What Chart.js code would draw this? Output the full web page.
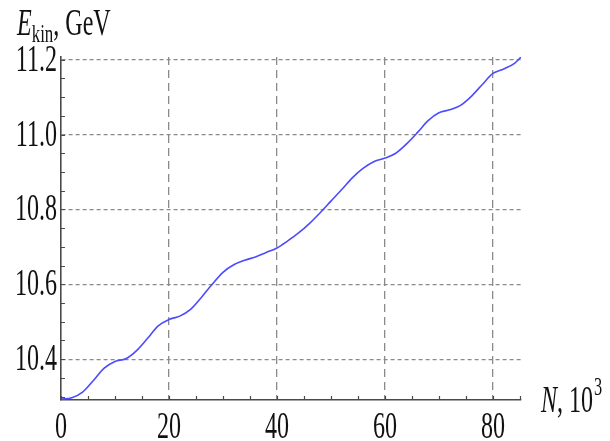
<!DOCTYPE html>
<html>
<head>
<meta charset="utf-8">
<script src="https://cdn.jsdelivr.net/npm/chart.js@4"></script>
<style>
  html, body { margin: 0; padding: 0; background: #fff; }
  #wrap { width: 610px; height: 441px; }
</style>
</head>
<body>
<div id="wrap"><canvas id="energyChart"></canvas></div>
<script>
// N in thousands, kinetic energy in GeV
const turns = [0, 2, 4, 6, 8, 10, 12, 14, 16, 18, 20, 22, 24, 26, 28, 30, 32, 34, 36, 38, 40,
    42, 44, 46, 48, 50, 52, 54, 56, 58, 60, 62, 64, 66, 68, 70, 72, 74, 76, 78, 80, 82, 84, 85.2];
const energy = [10.293, 10.297, 10.312, 10.343, 10.376, 10.394, 10.401, 10.423, 10.455, 10.489,
    10.506, 10.515, 10.533, 10.565, 10.600, 10.632, 10.652, 10.664, 10.673, 10.685, 10.697,
    10.716, 10.737, 10.762, 10.791, 10.822, 10.853, 10.885, 10.910, 10.928, 10.937,
    10.950, 10.975, 11.005, 11.037, 11.058, 11.066, 11.078, 11.102, 11.133, 11.163, 11.175, 11.190, 11.207];

const xLabelValues = [0, 20, 40, 60, 80];
const yLabelValues = [10.4, 10.6, 10.8, 11.0, 11.2];
const yLabelText = ['10.4', '10.6', '10.8', '11.0', '11.2'];

const SERIF = '"Liberation Serif", "DejaVu Serif", serif';
const SQUEEZE = 0.65;
const GRID_COLOR = '#8a8a8a';
const AXIS_COLOR = '#4a4a4a';

function isMajorX(v) { return v !== 0 && Math.abs(v / 20 - Math.round(v / 20)) < 1e-6; }
function isMajorY(v) { return Math.abs(v * 5 - Math.round(v * 5)) < 1e-6; }

// draws narrow text like the reference, returns the advance width
function squeezedText(ctx, str, x, y, size, italic, align) {
    ctx.save();
    ctx.font = (italic ? 'italic ' : '') + size + 'px ' + SERIF;
    const w = ctx.measureText(str).width * SQUEEZE;
    let startX = x;
    if (align === 'right') startX = x - w;
    if (align === 'center') startX = x - w / 2;
    ctx.translate(startX, y);
    ctx.scale(SQUEEZE, 1);
    ctx.textAlign = 'left';
    ctx.textBaseline = 'alphabetic';
    ctx.fillStyle = '#111';
    ctx.fillText(str, 0, 0);
    ctx.restore();
    return w;
}

const axisDecor = {
    id: 'axisDecor',
    afterDraw(chart) {
        const { ctx, scales: { x, y } } = chart;
        const area = chart.chartArea;

        // inward tick marks
        ctx.save();
        ctx.strokeStyle = AXIS_COLOR;
        ctx.lineWidth = 1.2;
        ctx.beginPath();
        x.ticks.forEach(t => {
            const px = Math.round(x.getPixelForValue(t.value)) + 0.5;
            ctx.moveTo(px, area.bottom);
            ctx.lineTo(px, area.bottom - 4);
        });
        y.ticks.forEach(t => {
            const py = Math.round(y.getPixelForValue(t.value)) + 0.5;
            ctx.moveTo(area.left, py);
            ctx.lineTo(area.left + 4, py);
        });
        ctx.stroke();
        ctx.restore();

        // tick labels
        xLabelValues.forEach(v => {
            squeezedText(ctx, String(v), x.getPixelForValue(v), 438, 37, false, 'center');
        });
        yLabelValues.forEach((v, i) => {
            squeezedText(ctx, yLabelText[i], 57, y.getPixelForValue(v) + 11, 37, false, 'right');
        });

        // y axis title: E_kin, GeV
        let cx = 17;
        cx += squeezedText(ctx, 'E', cx, 35, 37, true, 'left');
        cx += squeezedText(ctx, 'kin', cx, 42, 26, false, 'left');
        squeezedText(ctx, ', GeV', cx, 35, 37, false, 'left');

        // x axis title: N, 10^3
        let nx = 541;
        nx += squeezedText(ctx, 'N', nx, 412, 37, true, 'left');
        nx += squeezedText(ctx, ', 10', nx, 412, 37, false, 'left');
        squeezedText(ctx, '3', nx + 1, 395, 25, false, 'left');
    }
};

new Chart(document.getElementById('energyChart'), {
    type: 'line',
    data: {
        labels: turns,
        datasets: [{
            data: turns.map((n, i) => ({ x: n, y: energy[i] })),
            borderColor: '#4b4bff',
            borderWidth: 1.6,
            pointRadius: 0,
            fill: false,
            cubicInterpolationMode: 'monotone'
        }]
    },
    options: {
        responsive: true,
        maintainAspectRatio: false,
        animation: false,
        layout: { padding: { top: 57, right: 89, left: 0, bottom: 0 } },
        plugins: { legend: { display: false }, tooltip: { enabled: false } },
        scales: {
            x: {
                type: 'linear',
                min: 0,
                max: 85.2,
                afterFit: s => { s.height = 41; },
                ticks: { stepSize: 5, display: false, autoSkip: false, includeBounds: false },
                grid: {
                    drawTicks: false,
                    lineWidth: 1.3,
                    color: c => (c.tick && isMajorX(c.tick.value)) ? GRID_COLOR : 'rgba(0,0,0,0)'
                },
                border: { display: true, color: AXIS_COLOR, width: 1.6, dash: [8, 5] }
            },
            y: {
                min: 10.291,
                max: 11.207,
                afterFit: s => { s.width = 61; },
                ticks: { stepSize: 0.05, display: false, autoSkip: false, includeBounds: false },
                grid: {
                    drawTicks: false,
                    lineWidth: 1.3,
                    color: c => (c.tick && isMajorY(c.tick.value)) ? GRID_COLOR : 'rgba(0,0,0,0)'
                },
                border: { display: true, color: AXIS_COLOR, width: 1.6, dash: [4, 3] }
            }
        }
    },
    plugins: [axisDecor]
});
</script>
</body>
</html>
